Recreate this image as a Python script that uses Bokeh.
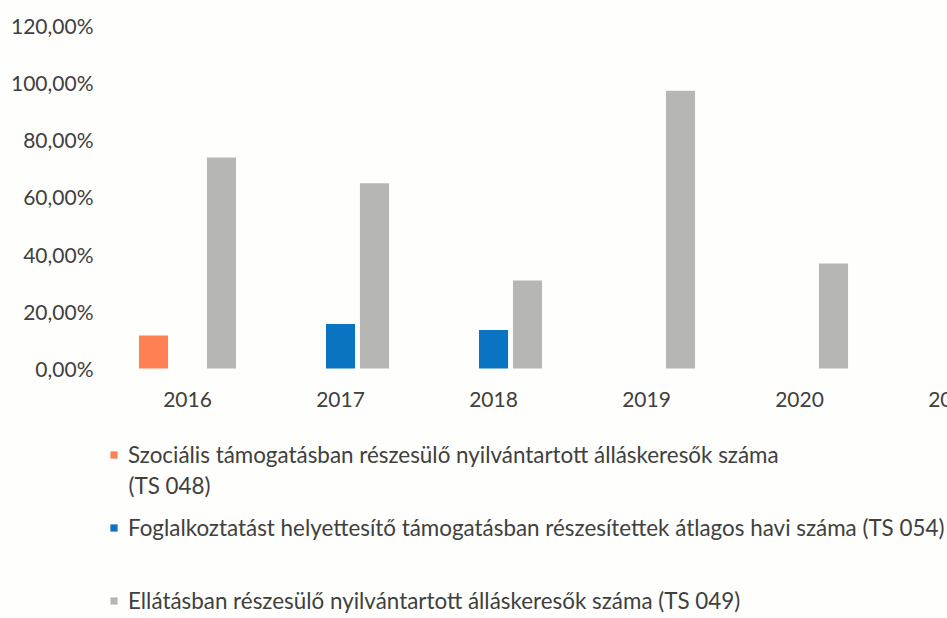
import numpy as np
from bokeh.plotting import figure
from bokeh.models import (Range1d, FixedTicker, Legend, LegendItem, Label,
                          ColumnDataSource)
from bokeh.transform import dodge
from bokeh.embed import file_html
from bokeh.resources import INLINE

# ---- data -------------------------------------------------------------
years = ["2016", "2017", "2018", "2019", "2020", "2021"]
szocialis_ts048 = [11.5, None, None, None, None, None]
foglalkoztatast_ts054 = [None, 15.6, 13.5, None, None, None]
ellatas_ts049 = [73.8, 64.8, 30.8, 97.2, 36.7, None]
y_ticks = [0, 20, 40, 60, 80, 100, 120]
y_tick_labels = ["0,00%", "20,00%", "40,00%", "60,00%", "80,00%", "100,00%", "120,00%"]
series_names = [
    "Szociális támogatásban részesülő nyilvántartott álláskeresők száma\n(TS 048)",
    "Foglalkoztatást helyettesítő támogatásban részesítettek átlagos havi száma (TS 054)",
    "Ellátásban részesülő nyilvántartott álláskeresők száma (TS 049)",
]
colors = ["#FF8052", "#0A74C2", "#B6B6B4"]

# ---- figure -----------------------------------------------------------
FONT = "Lato"
BG = "#FEFEFC"
TXT = "#404040"
LEG_FS = "22.4px"

x_idx = list(range(len(years)))
src = ColumnDataSource(dict(
    x=x_idx,
    s048=np.array(szocialis_ts048, dtype=float),
    s054=np.array(foglalkoztatast_ts054, dtype=float),
    s049=np.array(ellatas_ts049, dtype=float),
))

p = figure(width=947, height=618,
           x_range=Range1d(-0.5686, 4.967), y_range=Range1d(-87.47, 122.45),
           output_backend="svg", toolbar_location=None,
           min_border_left=100, min_border_right=0, min_border_top=18,
           min_border_bottom=0)
p.background_fill_color = BG
p.border_fill_color = BG
p.outline_line_color = None
p.xgrid.grid_line_color = None
p.ygrid.grid_line_color = None

off = 0.222
bw = 0.19
r1 = p.vbar(x=dodge("x", -off), top="s048", width=bw, source=src,
            fill_color=colors[0], line_color=None)
r2 = p.vbar(x=dodge("x", 0.0), top="s054", width=bw, source=src,
            fill_color=colors[1], line_color=None)
r3 = p.vbar(x=dodge("x", off), top="s049", width=bw, source=src,
            fill_color=colors[2], line_color=None)

# axes
xa = p.xaxis[0]
xa.fixed_location = 0
xa.ticker = FixedTicker(ticks=x_idx[:5])
xa.major_label_overrides = {i: years[i] for i in x_idx}
xa.axis_line_color = None
xa.major_tick_line_color = None
xa.minor_tick_line_color = None
xa.major_tick_out = 0
xa.major_tick_in = 0
xa.major_label_standoff = 24
xa.major_label_text_font = FONT
xa.major_label_text_font_size = "21px"
xa.major_label_text_color = TXT

ya = p.yaxis[0]
ya.ticker = FixedTicker(ticks=y_ticks)
ya.major_label_overrides = {t: l for t, l in zip(y_ticks, y_tick_labels)}
ya.axis_line_color = None
ya.major_tick_line_color = None
ya.minor_tick_line_color = None
ya.major_tick_out = 0
ya.major_label_standoff = 7
ya.major_label_text_font = FONT
ya.major_label_text_font_size = "21px"
ya.major_label_text_color = TXT

# partially visible last category label (cut by the page edge)
p.add_layout(Label(x=x_idx[5], y=0, text=years[5],
                   text_align="center", text_baseline="top", y_offset=-24,
                   text_font=FONT, text_font_size="21px", text_color=TXT))

# legends (one per entry, stacked below the bars)
def make_legend(label, rend, loc):
    lg = Legend(items=[LegendItem(label=label, renderers=[rend])],
                location=loc, orientation="vertical",
                border_line_color=None, background_fill_alpha=0,
                padding=0, margin=0, spacing=0,
                glyph_width=9, glyph_height=9, label_standoff=10,
                label_height=26,
                label_text_font=FONT, label_text_font_size=LEG_FS,
                label_text_color=TXT)
    p.add_layout(lg, "center")

first_line, second_line = series_names[0].split("\n")
make_legend(first_line, r1, (9, 150))
make_legend(series_names[1], r2, (9, 77))
make_legend(series_names[2], r3, (9, 4))
# wrapped continuation of the first legend entry
p.add_layout(Label(x=28, y=133, x_units="screen", y_units="screen",
                   text=second_line, text_align="left", text_baseline="middle",
                   text_font=FONT, text_font_size=LEG_FS, text_color=TXT))

open("out.html", "w").write(file_html(p, INLINE))
